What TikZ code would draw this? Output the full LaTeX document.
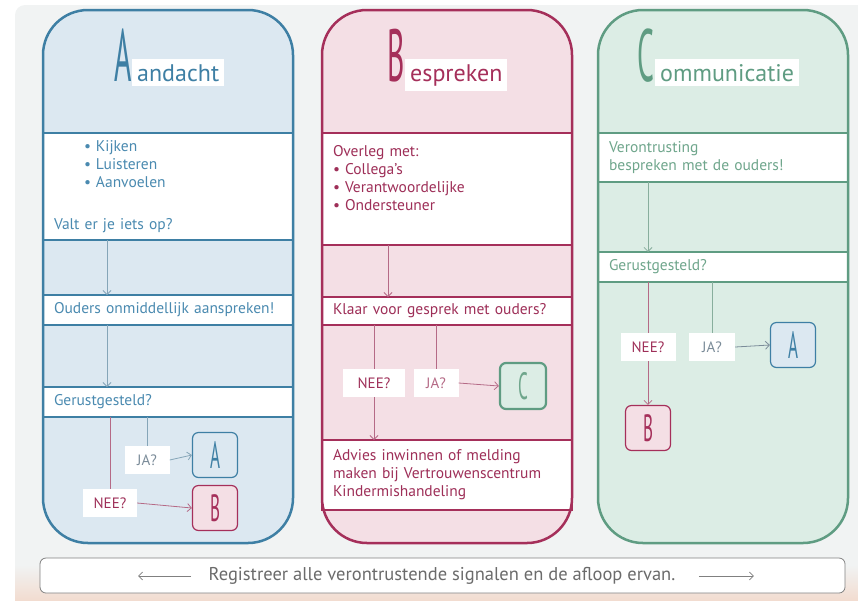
\documentclass[tikz,border=0pt]{standalone}
\usepackage{fontspec}
\setmainfont{PT Sans}
\usetikzlibrary{arrows.meta,positioning}

\definecolor{pagebg}{HTML}{F1F3F3}
\definecolor{peach}{HTML}{F2DCD0}
\definecolor{ablue}{HTML}{3E7FA4}
\definecolor{afill}{HTML}{DCE8F1}
\definecolor{atext}{HTML}{4A8AB0}
\definecolor{aline}{HTML}{85A5B8}
\definecolor{bred}{HTML}{A52F5A}
\definecolor{bfill}{HTML}{F4DFE5}
\definecolor{btext}{HTML}{9E2F58}
\definecolor{bline}{HTML}{B56A86}
\definecolor{cgreen}{HTML}{5F9C82}
\definecolor{cfill}{HTML}{DCEDE5}
\definecolor{ctext}{HTML}{6FA68C}
\definecolor{cline}{HTML}{88AE9D}
\definecolor{labgrey}{HTML}{7B8C99}
\definecolor{reggrey}{HTML}{6B6B6B}

\newcommand\bul{\makebox[12pt][l]{\textbullet}}
\newcommand\initial[1]{{\fontsize{74}{74}\selectfont\scalebox{0.40}[1]{#1}}}
\newcommand\boxletter[1]{{\fontsize{38}{38}\selectfont\scalebox{0.45}[1]{#1}}}

\tikzset{
  band/.style={draw=#1, line width=2pt, fill=white, outer sep=0pt,
    inner xsep=11pt, text width=228pt, align=left, anchor=north west,
    font=\fontsize{15.5}{18}\selectfont},
  titleword/.style={fill=white, inner sep=5pt, anchor=base west,
    font=\fontsize{24}{24}\selectfont},
  initialnode/.style={inner sep=0pt, anchor=base east},
  lab/.style={fill=white, inner sep=0pt, minimum height=28pt,
    font=\fontsize{15}{15}\selectfont},
  letterbox/.style={draw=#1, rounded corners=6pt, line width=1.2pt,
    minimum size=45pt, inner sep=0pt},
  arr/.style={-{Straight Barb[length=4pt,width=8pt]}, line width=0.8pt},
}

\begin{document}
\begin{tikzpicture}[x=1pt, y=-1pt]
\useasboundingbox (0,0) rectangle (858,600);

\def\xa{43}
\def\xb{322}
\def\xc{598}
\def\ytop{10}
\def\hcol{533}

% page
\begin{scope}
\clip[rounded corners=10pt] (15,5) rectangle (880,620);
\fill[pagebg] (15,5) rectangle (858,600);
\shade[top color=pagebg, bottom color=peach] (15,565) rectangle (858,600);
\end{scope}

% column fills
\fill[afill, rounded corners=45pt] (\xa,\ytop) rectangle ++(250,\hcol);
\fill[bfill, rounded corners=45pt] (\xb,\ytop) rectangle ++(250,\hcol);
\fill[cfill, rounded corners=45pt] (\xc,\ytop) rectangle ++(250,\hcol);

% titles
\node[titleword, text=ablue] (tA) at (132,81) {andacht};
\node[initialnode, text=ablue] (iA) at (tA.base west) {\initial{A}};
\node[titleword, text=bred] (tB) at (405,81) {espreken};
\node[initialnode, text=bred] (iB) at (tB.base west) {\initial{B}};
\node[titleword, text=cgreen] (tC) at (655,81) {ommunicatie};
\node[initialnode, text=cgreen] (iC) at (tC.base west) {\initial{C}};

% Aandacht
\node[band=ablue, text=atext, minimum height=107pt] (kijk) at (\xa,133)
  {\hspace*{30pt}\bul Kijken\\ \hspace*{30pt}\bul Luisteren\\
   \hspace*{30pt}\bul Aanvoelen\\[24pt] Valt er je iets op?};
\node[band=ablue, text=atext, minimum height=30pt] (ouders) at (\xa,295)
  {Ouders onmiddellijk aanspreken!};
\node[band=ablue, text=atext, minimum height=30pt] (gerA) at (\xa,387)
  {Gerustgesteld?};
\coordinate (lineA) at (107,0);
\draw[arr, aline] (kijk.south -| lineA) -- (ouders.north -| lineA);
\draw[arr, aline] (ouders.south -| lineA) -- (gerA.north -| lineA);

\node[lab, minimum width=45pt, text=labgrey] (jaA) at (147,460) {JA?};
\node[lab, minimum width=54pt, text=btext] (neeA) at (110,503) {NEE?};
\node[letterbox=ablue, fill=afill, text=ablue] (boxAA) at (215,455) {\boxletter{A}};
\node[letterbox=bred, fill=bfill, text=bred] (boxAB) at (215,508) {\boxletter{B}};
\draw[aline, line width=0.8pt] (gerA.south -| jaA) -- (jaA.north);
\draw[bline, line width=0.8pt] (gerA.south -| neeA) -- (neeA.north);
\draw[arr, aline] (jaA.east) -- (boxAA.west);
\draw[arr, bline] (neeA.east) -- (boxAB.west);

% Bespreken
\node[band=bred, text=btext, minimum height=112pt] (overleg) at (\xb,133)
  {Overleg met:\\ \bul Collega's\\ \bul Verantwoordelijke\\
   \bul Ondersteuner\\[4pt]\mbox{}};
\node[band=bred, text=btext, minimum height=28pt] (klaar) at (\xb,297)
  {Klaar voor gesprek met ouders?};
\node[band=bred, text=btext, minimum height=70pt] (advies) at (\xb,440)
  {Advies inwinnen of melding\\ maken bij Vertrouwenscentrum\\ Kindermishandeling};
\coordinate (lineB) at (388,0);
\draw[arr, bline] (overleg.south -| lineB) -- (klaar.north -| lineB);

\node[lab, minimum width=62pt, text=btext] (neeB) at (374,383) {NEE?};
\node[lab, minimum width=45pt, text=bline] (jaB) at (436,383) {JA?};
\node[letterbox=cgreen, line width=2.2pt, fill=cfill, minimum size=46pt, text=ctext] (boxBC) at (523,386) {\boxletter{C}};
\draw[bline, line width=0.8pt] (klaar.south -| neeB) -- (neeB.north);
\draw[arr, bline] (neeB.south) -- (advies.north -| neeB);
\draw[bline, line width=0.8pt] (klaar.south -| jaB) -- (jaB.north);
\draw[arr, bline] (jaB.east) -- (boxBC.west);

% Communicatie
\node[band=cgreen, text=ctext, minimum height=49pt] (veront) at (\xc,133)
  {Verontrusting\\ bespreken met de ouders!};
\node[band=cgreen, text=ctext, minimum height=30pt] (gerC) at (\xc,252)
  {Gerustgesteld?};
\coordinate (lineC) at (648,0);
\draw[arr, cline] (veront.south -| lineC) -- (gerC.north -| lineC);

\node[lab, minimum width=55pt, text=btext] (neeC) at (648,347) {NEE?};
\node[lab, minimum width=46pt, text=labgrey] (jaC) at (712,347) {JA?};
\node[letterbox=ablue, fill=afill, text=ablue] (boxCA) at (793,345) {\boxletter{A}};
\node[letterbox=bred, fill=bfill, text=bred] (boxCB) at (648,428) {\boxletter{B}};
\draw[bline, line width=0.8pt] (gerC.south -| neeC) -- (neeC.north);
\draw[arr, bline] (neeC.south) -- (boxCB.north);
\draw[cline, line width=0.8pt] (gerC.south -| jaC) -- (jaC.north);
\draw[arr, labgrey] (jaC.east) -- (boxCA.west);

% column outlines
\draw[ablue, line width=2.5pt, rounded corners=45pt] (\xa,\ytop) rectangle ++(250,\hcol);
\draw[bred, line width=2.5pt, rounded corners=45pt] (\xb,\ytop) rectangle ++(250,\hcol);
\draw[cgreen, line width=2.5pt, rounded corners=45pt] (\xc,\ytop) rectangle ++(250,\hcol);

% bottom bar
\draw[gray, fill=white, line width=0.8pt, rounded corners=6pt] (40,558) rectangle (845,593);
\node[text=reggrey, font=\fontsize{18.5}{18.5}\selectfont] (reg) at (442,576)
  {Registreer alle verontrustende signalen en de afloop ervan.};
\draw[arr, gray, line width=0.6pt] ([xshift=-14pt]reg.west) -- ([xshift=-67pt]reg.west);
\draw[arr, gray, line width=0.6pt] ([xshift=20pt]reg.east) -- ([xshift=75pt]reg.east);

\end{tikzpicture}
\end{document}
